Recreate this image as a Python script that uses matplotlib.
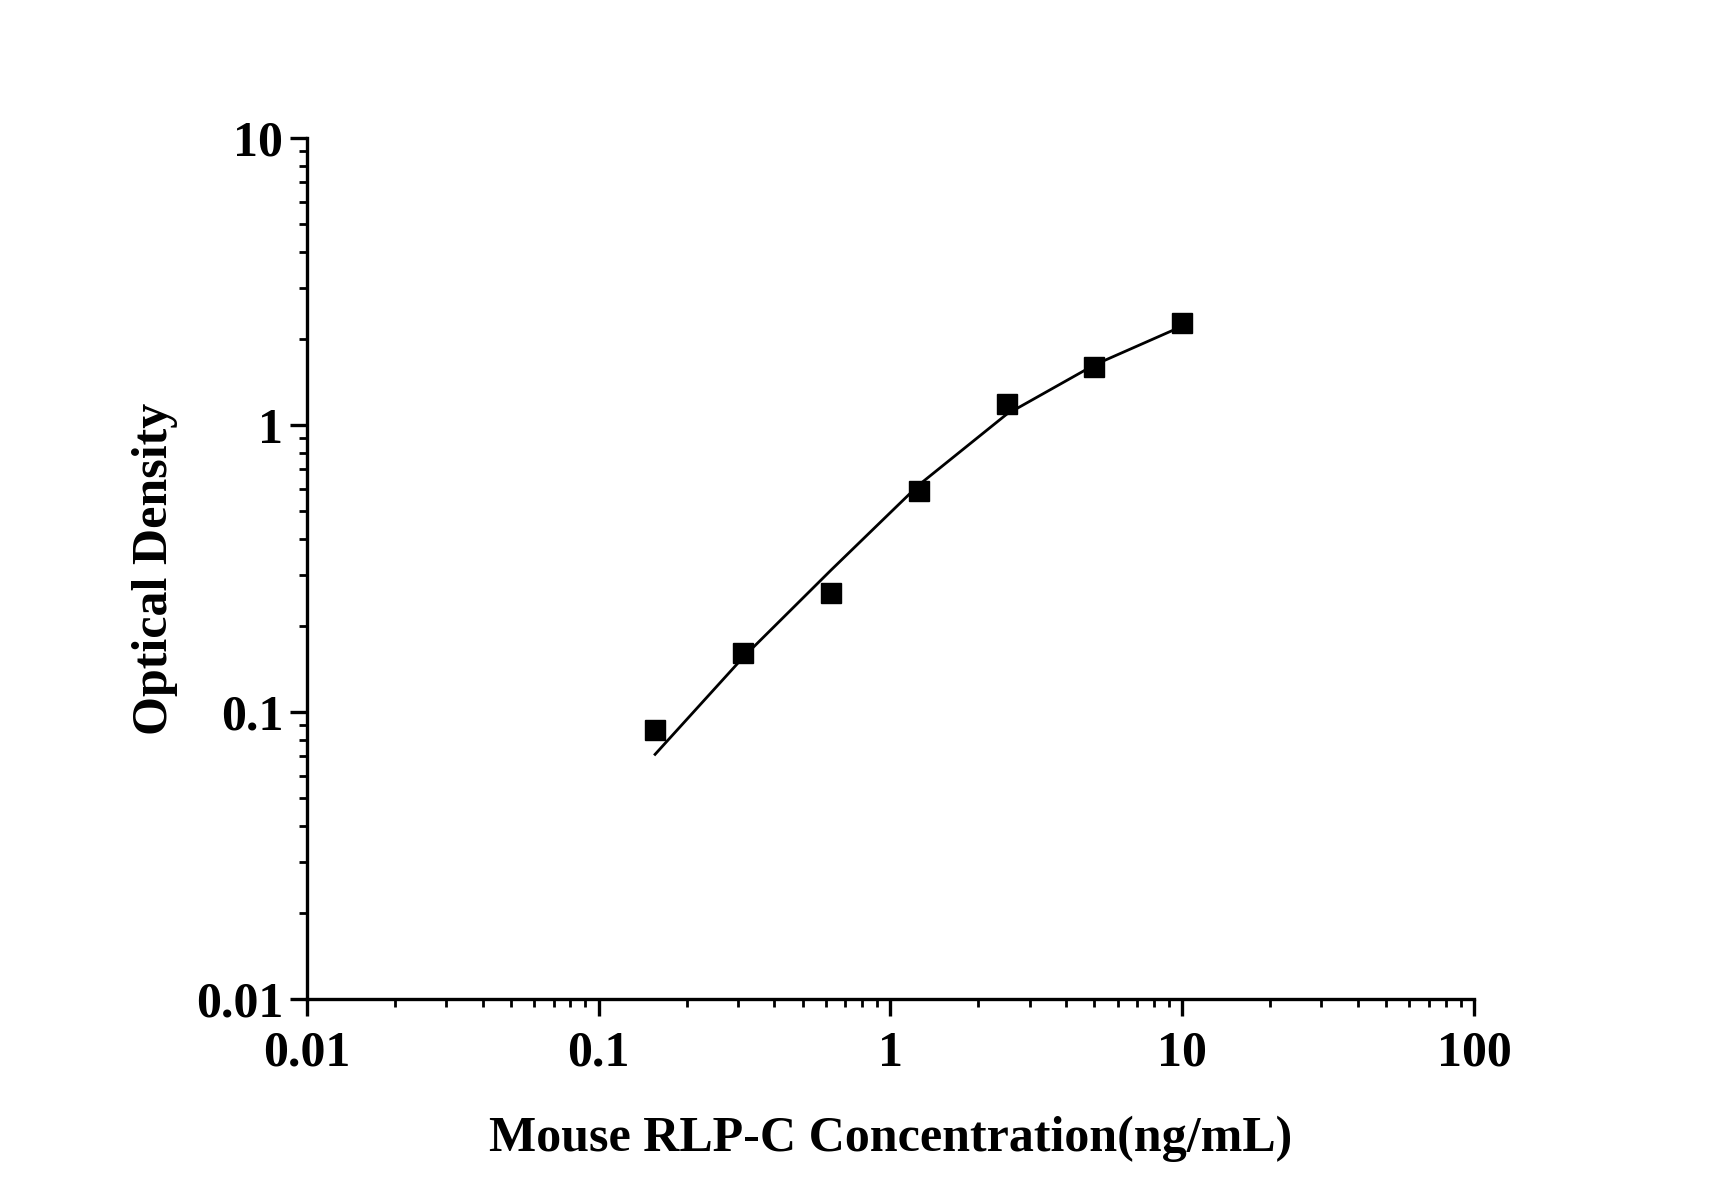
import matplotlib
matplotlib.use("Agg")
import matplotlib.pyplot as plt
from matplotlib.ticker import LogLocator, FixedFormatter, FixedLocator, NullFormatter

# standard concentrations (ng/mL) and measured OD
conc = [0.156, 0.3125, 0.625, 1.25, 2.5, 5, 10]
od = [0.0868, 0.160, 0.260, 0.590, 1.185, 1.588, 2.262]

# fitted curve at the standard points
fit_conc = [0.156, 0.3125, 0.625, 1.25, 2.5, 5, 10]
fit_od = [0.0712, 0.155, 0.312, 0.618, 1.09, 1.62, 2.21]

x_ticks = [0.01, 0.1, 1, 10, 100]
x_labels = ["0.01", "0.1", "1", "10", "100"]
y_ticks = [0.01, 0.1, 1, 10]
y_labels = ["0.01", "0.1", "1", "10"]

plt.rcParams["font.family"] = ["Liberation Serif", "DejaVu Serif"]
plt.rcParams["font.weight"] = "bold"

fig = plt.figure(figsize=(17.12, 11.96), dpi=100)
ax = fig.add_axes([0.1793, 0.1647, 0.6817, 0.7199])

ax.plot(fit_conc, fit_od, color="black", lw=2.0, zorder=2)
ax.plot(conc, od, ls="none", marker="s", ms=14.5, color="black", zorder=3)

ax.set_xscale("log")
ax.set_yscale("log")
ax.set_xlim(0.01, 100)
ax.set_ylim(0.01, 10)

for axis, ticks, labels in ((ax.xaxis, x_ticks, x_labels), (ax.yaxis, y_ticks, y_labels)):
    axis.set_major_locator(FixedLocator(ticks))
    axis.set_major_formatter(FixedFormatter(labels))
    axis.set_minor_locator(LogLocator(base=10, subs=range(2, 10)))
    axis.set_minor_formatter(NullFormatter())

ax.spines["top"].set_visible(False)
ax.spines["right"].set_visible(False)
for s in ("left", "bottom"):
    ax.spines[s].set_linewidth(2.4)

ax.tick_params(which="major", direction="out", length=12, width=2.4, labelsize=36)
ax.tick_params(which="minor", direction="out", length=6, width=2.0)
ax.tick_params(axis="x", which="major", pad=11)
ax.tick_params(axis="y", which="major", pad=5)

ax.set_xlabel("Mouse RLP-C Concentration(ng/mL)", fontsize=36, fontweight="bold", labelpad=28)
ax.set_ylabel("Optical Density", fontsize=36, fontweight="bold", labelpad=13)

fig.savefig("out.png", dpi=100, facecolor="white")
